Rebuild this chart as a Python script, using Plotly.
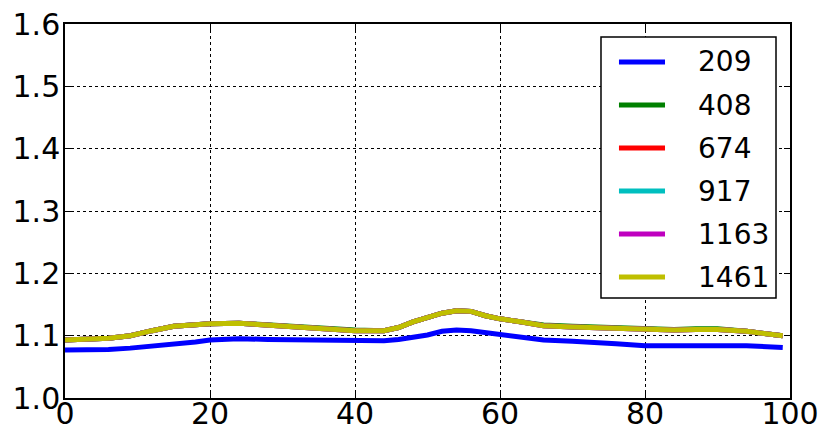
import plotly.graph_objects as go

# sample positions along the run (x axis)
x_pos = [0, 3, 6, 9, 10, 12, 15, 18, 20, 24, 28, 32, 36, 40, 44, 46, 48, 50,
         52, 54, 56, 58, 60, 63, 66, 70, 73, 76, 80, 84, 87, 90, 94, 99]

y_209 = [1.077, 1.077, 1.078, 1.080, 1.081, 1.083, 1.087, 1.090, 1.093, 1.095,
         1.094, 1.093, 1.092, 1.091, 1.092, 1.094, 1.097, 1.101, 1.107, 1.109,
         1.108, 1.105, 1.100, 1.096, 1.093, 1.091, 1.090, 1.087, 1.084, 1.084,
         1.085, 1.085, 1.084, 1.081]
y_408 = [1.093, 1.094, 1.096, 1.100, 1.103, 1.108, 1.115, 1.118, 1.119, 1.120,
         1.117, 1.114, 1.111, 1.109, 1.108, 1.113, 1.122, 1.129, 1.136, 1.140,
         1.139, 1.132, 1.127, 1.122, 1.117, 1.115, 1.114, 1.112, 1.110, 1.110,
         1.111, 1.111, 1.107, 1.100]
y_674 = [1.093, 1.094, 1.096, 1.100, 1.103, 1.108, 1.115, 1.118, 1.119, 1.120,
         1.117, 1.114, 1.111, 1.108, 1.108, 1.113, 1.122, 1.129, 1.136, 1.140,
         1.139, 1.132, 1.127, 1.122, 1.116, 1.114, 1.113, 1.111, 1.109, 1.109,
         1.110, 1.110, 1.107, 1.100]
y_917 = y_674
y_1163 = y_674
y_1461 = [1.093, 1.094, 1.096, 1.100, 1.103, 1.108, 1.115, 1.118, 1.119, 1.120,
          1.117, 1.114, 1.111, 1.108, 1.108, 1.113, 1.122, 1.129, 1.136, 1.140,
          1.139, 1.132, 1.127, 1.122, 1.116, 1.114, 1.113, 1.111, 1.109, 1.109,
          1.110, 1.110, 1.107, 1.100]

labels = ["209", "408", "674", "917", "1163", "1461"]
series = [y_209, y_408, y_674, y_917, y_1163, y_1461]
colors = ["#0000ff", "#008000", "#ff0000", "#00bfbf", "#bf00bf", "#bfbf00"]

x_ticks = [0, 20, 40, 60, 80, 100]
y_ticks = [1.0, 1.1, 1.2, 1.3, 1.4, 1.5, 1.6]

fig = go.Figure()
for name, ys, col in zip(labels, series, colors):
    fig.add_trace(go.Scatter(x=x_pos, y=ys, mode="lines", name=name,
                             line=dict(color=col, width=5), showlegend=False))

axis_style = dict(
    showline=True, linecolor="black", linewidth=1.5, mirror="ticks",
    ticks="inside", ticklen=6, tickcolor="black", tickwidth=1,
    showgrid=True, gridcolor="black", griddash="dot", gridwidth=1,
    zeroline=False, tickfont=dict(size=30, color="black"), automargin=False,
    ticklabeloverflow="allow",
)
fig.update_xaxes(range=[0, 100], tickvals=x_ticks, ticklabelstandoff=-12, **axis_style)
fig.update_yaxes(range=[1.0, 1.6], tickvals=y_ticks, tickformat=".1f",
                 ticklabelstandoff=-3, **axis_style)

# matplotlib-style legend box in the upper right corner
fig.add_shape(type="rect", xref="paper", yref="paper",
              x0=0.7393, x1=0.9807, y0=0.2674, y1=0.9652,
              line=dict(color="black", width=1.5), fillcolor="white", layer="above")
row_y = 0.8984
for name, col in zip(labels, colors):
    fig.add_shape(type="line", xref="paper", yref="paper",
                  x0=0.7641, x1=0.8276, y0=row_y, y1=row_y,
                  line=dict(color=col, width=5), layer="above")
    fig.add_annotation(xref="paper", yref="paper", x=0.8703, y=row_y,
                       xanchor="left", yanchor="middle", text=name,
                       showarrow=False, font=dict(size=28, color="black"))
    row_y -= 0.115

# the page body adds an 8px offset, so the figure is 8px smaller
fig.update_layout(
    width=822, height=433,
    margin=dict(l=57, r=40, t=16, b=43),
    plot_bgcolor="white", paper_bgcolor="white",
    font=dict(family="DejaVu Sans", color="black"),
    showlegend=False,
)

fig.write_html("out.html")
